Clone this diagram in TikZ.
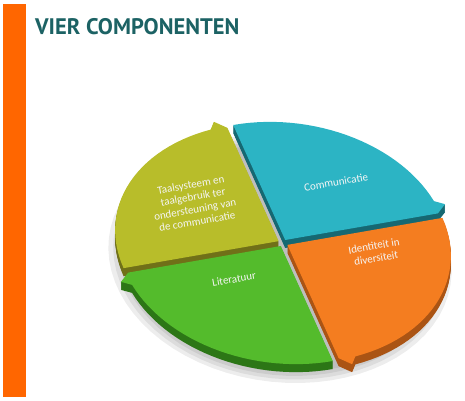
\documentclass[tikz,border=0pt]{standalone}
\usepackage{fontspec}
\newfontfamily\titlefont{PT Sans}
\newfontfamily\labelfont{Carlito}
\definecolor{barorange}{RGB}{255,102,0}
\definecolor{titleteal}{RGB}{28,98,100}
\definecolor{yel}{RGB}{184,189,42}
\definecolor{yelD}{RGB}{112,112,24}
\definecolor{tea}{RGB}{44,180,196}
\definecolor{teaD}{RGB}{22,104,114}
\definecolor{org}{RGB}{244,125,32}
\definecolor{orgD}{RGB}{170,84,20}
\definecolor{grn}{RGB}{84,187,44}
\definecolor{grnD}{RGB}{44,118,22}

\begin{document}
\begin{tikzpicture}[x=1pt,y=1pt,
    title/.style={text=titleteal, font=\titlefont\bfseries\fontsize{22.5}{24}\selectfont, inner sep=0pt},
    lbl/.style={text=white!92!gray, font=\labelfont\fontsize{11}{12.5}\selectfont, align=center, rotate=10, inner sep=1pt}
  ]
  \useasboundingbox (0,0) rectangle (465,400);
  \fill[barorange] (3,3) rectangle (26,396);
  \node[title, anchor=base west] (title) at (35,366) {VIER COMPONENTEN};

  % pie in perspective
  \begin{scope}[shift={(283,157)}, x={(155pt,27pt)}, y={(52pt,-115pt)}]
    % shadow
    \foreach \s in {0.96,0.99,1.02,1.05}
      \fill[black, opacity=0.07, xshift=-3pt, yshift=-16pt] plot[domain=0:360, samples=72] (\x:\s) -- cycle;
    % slices
    \foreach \a/\c/\cd in {180/yel/yelD, 270/tea/teaD, 90/grn/grnD, 0/org/orgD} {
      \begin{scope}[shift={(\a+45:0.03)}]
        \foreach \d in {1,...,8}
          \fill[\cd, yshift=-\d pt] (0,0) -- plot[domain=\a:\a+84, samples=30] (\x:1)
            -- (\a+86.5:1.055) -- (\a+90:0.985) -- cycle;
        \fill[\c] (0,0) -- plot[domain=\a:\a+84, samples=30] (\x:1)
            -- (\a+86.5:1.055) -- (\a+90:0.985) -- cycle;
      \end{scope}
    }
  \end{scope}

  \node[lbl] (taal) at (194,197) {Taalsysteem en\\taalgebruik ter\\ondersteuning van\\de communicatie};
  \node[lbl] (comm) at (336,218) {Communicatie};
  \node[lbl] (iden) at (375,148) {Identiteit in\\diversiteit};
  \node[lbl] (lit) at (234,121) {Literatuur};
\end{tikzpicture}
\end{document}
